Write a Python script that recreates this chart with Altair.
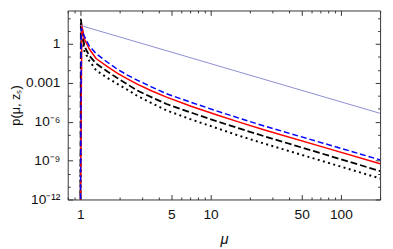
import math
import altair as alt
import pandas as pd

# ---- data (p given as log10 values) ----
# thin reference power law
thin_mu = [1.0, 200.0]
thin_logp = [1.418, -5.360]

# common magnification grid of the tails
mu_tail = [1.0717, 1.1685, 1.3195, 1.6233, 1.9310, 2.2961, 2.7299, 3.5385,
           4.5877, 7.0740, 10.905, 16.812, 25.917, 73.23, 200.0]

# red solid
red_mu = [1.0, 1.0263] + mu_tail
red_logp = [-14, 1.434, 0.377, -0.377, -1.132, -1.781, -2.272, -2.709, -3.102,
            -3.638, -4.113, -4.808, -5.449, -6.053, -6.642, -7.962, -9.245]

# blue dashed
bdash_mu = [1.0, 1.0175] + mu_tail
bdash_logp = [-14, 1.208, 0.604, -0.151, -0.755, -1.441, -1.970, -2.408, -2.800,
              -3.336, -3.849, -4.506, -5.147, -5.751, -6.340, -7.660, -8.943]

# black dashed
kdash_mu = [1.0, 1.0087] + mu_tail
kdash_logp = [-14, 1.887, -0.151, -0.906, -1.509, -2.158, -2.649, -3.125, -3.592,
              -4.128, -4.642, -5.298, -5.940, -6.543, -7.132, -8.491, -9.811]

# black dotted
kdot_mu = [1.0, 1.0175] + mu_tail
kdot_logp = [-14, 1.057, -0.528, -1.283, -2.038, -2.649, -3.102, -3.540, -4.008,
             -4.581, -5.132, -5.826, -6.468, -7.109, -7.698, -9.057, -10.377]

# ticks
x_major = [1, 5, 10, 50, 100]
x_minor = [0.8, 0.9, 2, 3, 4, 6, 7, 8, 9, 20, 30, 40, 60, 70, 80, 90, 200]
y_major = [1e-12, 1e-9, 1e-6, 1e-3, 1]
y_major_labels = ["10⁻¹²", "10⁻⁹", "10⁻⁶", "0.001", "1"]
y_minor = [1e-11, 1e-10, 1e-8, 1e-7, 1e-5, 1e-4, 1e-2, 1e-1, 10, 100]

x_domain = [0.8, 200]
y_domain = [1e-12, 370]

W, H = 319, 193
FONT = "Liberation Sans"


def df(mu, logp):
    return pd.DataFrame({"mu": mu, "p": [10.0 ** v for v in logp],
                         "i": list(range(len(mu)))})


xs = alt.Scale(type="log", domain=x_domain, nice=False)
ys = alt.Scale(type="log", domain=y_domain, nice=False)

label_expr = "''"
for v, lab in zip(y_major, y_major_labels):
    e = round(math.log10(v))
    label_expr = f"round(log(datum.value)/LN10) == {e} ? '{lab}' : ({label_expr})"


def line_layer(mu, logp, color, width, dash=None, main=False):
    kw = dict(color=color, strokeWidth=width, clip=True, strokeJoin="round")
    if dash:
        kw["strokeDash"] = dash
    if main:
        xax = alt.Axis(orient="bottom", values=x_major, format="d", tickSize=0,
                       domain=False, labelPadding=8, labelFontSize=14, labelFont=FONT,
                       labelColor="#111", title="μ", titleFont=FONT, titleFontSize=15,
                       titleFontStyle="italic", titleFontWeight="normal",
                       titlePadding=11, titleColor="#111", labelFlush=False)
        yax = alt.Axis(orient="left", values=y_major, labelExpr=label_expr, tickSize=0,
                       domain=False, labelPadding=8, labelFontSize=14, labelFont=FONT,
                       labelColor="#111", title="p(μ, zₛ)", titleFont=FONT,
                       titleFontSize=13, titleFontWeight="normal", titlePadding=3,
                       titleColor="#111", labelFlush=False)
    else:
        xax = None
        yax = None
    return alt.Chart(df(mu, logp)).mark_line(**kw).encode(
        x=alt.X("mu:Q", scale=xs, axis=xax),
        y=alt.Y("p:Q", scale=ys, axis=yax),
        order="i:Q",
    )


def tick_layer(xvals, yvals, size, inner_side):
    # "bl": inward ticks on bottom/left edges; "tr": on top/right edges
    if inner_side == "bl":
        xo, yo = "top", "right"
    else:
        xo, yo = "bottom", "left"
    common = dict(labels=False, domain=False, tickSize=size, tickColor="#333",
                  tickWidth=1, title=None)
    return alt.Chart(df(thin_mu, thin_logp)).mark_point(opacity=0).encode(
        x=alt.X("mu:Q", scale=xs, axis=alt.Axis(orient=xo, offset=-H, values=xvals, **common)),
        y=alt.Y("p:Q", scale=ys, axis=alt.Axis(orient=yo, offset=-W, values=yvals, **common)),
    )


layers = [
    line_layer(kdot_mu, kdot_logp, "#000000", 2.0, [2, 3.5], main=True),
    line_layer(kdash_mu, kdash_logp, "#000000", 1.8, [7, 3]),
    line_layer(red_mu, red_logp, "#ff0000", 1.5),
    line_layer(bdash_mu, bdash_logp, "#0000ff", 1.5, [6, 3]),
    line_layer(thin_mu, thin_logp, "#8c8cd0", 1.0),
    tick_layer(x_major, y_major, 5, "bl"),
    tick_layer(x_minor, y_minor, 2.5, "bl"),
    tick_layer(x_major, y_major, 5, "tr"),
    tick_layer(x_minor, y_minor, 2.5, "tr"),
]

chart = (
    alt.layer(*layers)
    .resolve_axis(x="independent", y="independent")
    .properties(
        width=W,
        height=H,
        autosize=alt.AutoSizeParams(type="none"),
        padding={"left": 61, "top": 0, "right": 5, "bottom": 48},
    )
    .configure_view(stroke="#333", strokeWidth=1)
    .configure_axis(grid=False)
)

chart.save("out.html", embed_options={"renderer": "svg", "actions": False})
